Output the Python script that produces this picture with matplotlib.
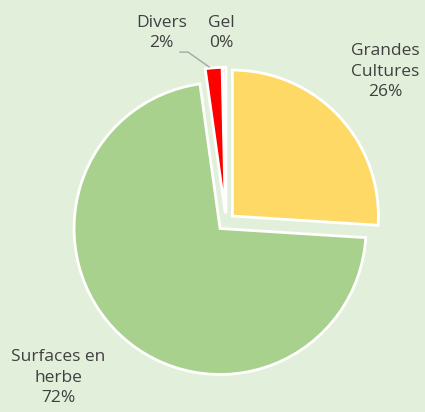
import matplotlib.pyplot as plt

# Data
labels = ['Grandes\nCultures', 'Surfaces en\nherbe', 'Divers', 'Gel']
values = [26.0, 71.8, 1.85, 0.35]
shown_pct = ['26%', '72%', '2%', '0%']
colors = ['#FFD966', '#A9D18E', '#FF0000', '#D0D0D0']

bg = '#E2EFDA'
txt_color = '#404040'

fig = plt.figure(figsize=(4.25, 4.12), dpi=100)
fig.patch.set_facecolor(bg)
ax = fig.add_axes([0, 0, 1, 1])
ax.set_facecolor(bg)

wedges, _ = ax.pie(values, colors=colors, startangle=90, counterclock=False,
                   explode=[0.06] * len(values),
                   wedgeprops=dict(edgecolor='white', linewidth=2))

ax.set_xlim(-1.548, 1.363)
ax.set_ylim(-1.301, 1.521)
ax.set_aspect('equal')
ax.axis('off')

font = dict(family='Open Sans', fontsize=12.5, color=txt_color,
            ha='center', va='center', multialignment='center', linespacing=1.4)

# label positions (layout)
label_pos = [(1.089, 1.03), (-1.147, -1.065), (-0.44, 1.295), (-0.035, 1.295)]
for lab, pct, (x, y) in zip(labels, shown_pct, label_pos):
    ax.text(x, y, lab + '\n' + pct, **font)

# leader line for "Divers"
ax.plot([-0.315, -0.260, -0.115], [1.164, 1.164, 1.062], color='#A6A6A6', lw=1)

plt.savefig('out.png', dpi=100, facecolor=bg)
